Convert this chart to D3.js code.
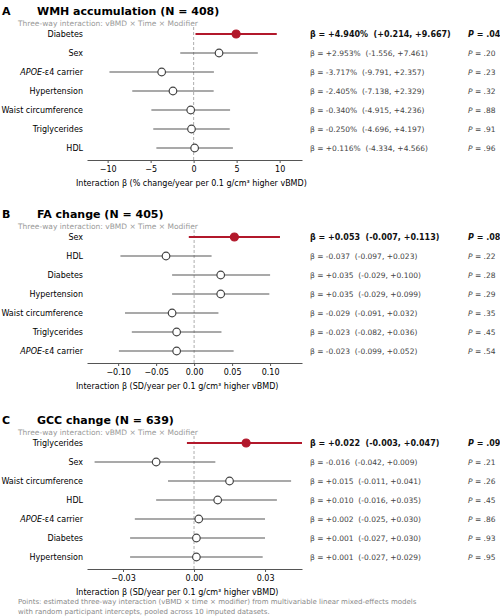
<!DOCTYPE html><html><head><meta charset="utf-8"><script src="https://cdn.jsdelivr.net/npm/d3@7"></script>
<style>body{margin:0;background:#fff}text{font-family:"DejaVu Sans",sans-serif}</style></head><body><svg id="c" width="500" height="616"></svg>
<script>
const aLabels=["Diabetes","Sex","APOE","Hypertension","Waist circumference","Triglycerides","HDL"];
const aEst=[4.940,2.953,-3.717,-2.405,-0.340,-0.250,0.116];
const aLo=[0.214,-1.556,-9.791,-7.138,-4.915,-4.696,-4.334];
const aHi=[9.667,7.461,2.357,2.329,4.236,4.197,4.566];
const aP=[".04",".20",".23",".32",".88",".91",".96"];
const bLabels=["Sex","HDL","Diabetes","Hypertension","Waist circumference","Triglycerides","APOE"];
const bEst=[0.053,-0.037,0.035,0.035,-0.029,-0.023,-0.023];
const bLo=[-0.007,-0.097,-0.029,-0.029,-0.091,-0.082,-0.099];
const bHi=[0.113,0.023,0.100,0.099,0.032,0.036,0.052];
const bP=[".08",".22",".28",".29",".35",".45",".54"];
const cLabels=["Triglycerides","Sex","Waist circumference","HDL","APOE","Diabetes","Hypertension"];
const cEst=[0.022,-0.016,0.015,0.010,0.002,0.001,0.001];
const cLo=[-0.003,-0.042,-0.011,-0.016,-0.025,-0.027,-0.027];
const cHi=[0.047,0.009,0.041,0.035,0.030,0.030,0.029];
const cP=[".09",".21",".26",".45",".86",".93",".95"];
const aTicks=[-10,-5,0,5,10], bTicks=[-0.10,-0.05,0,0.05,0.10], cTicks=[-0.03,0,0.03];
const svg=d3.select("#c");
const RED="#b2182b", GR="#555";
function sgn(v,d){return (v>=0?"+":"-")+Math.abs(v).toFixed(d);}
function panel(o){
  const g=svg.append("g");
  g.append("text").attr("x",2).attr("y",o.top).attr("font-size",11).attr("font-weight","bold").text(o.letter);
  g.append("text").attr("x",37).attr("y",o.top).attr("font-size",11).attr("font-weight","bold").text(o.title);
  g.append("text").attr("x",18).attr("y",o.top+11).attr("font-size",7.5).attr("fill","#999").text("Three-way interaction: vBMD × Time × Modifier");
  const x=d3.scaleLinear().domain(o.dom).range([87,302]);
  const y=d3.scalePoint().domain(d3.range(7)).range([o.top+19,o.top+133]);
  const yc=i=>y(i);
  const axY=o.top+145;
  g.append("line").attr("x1",x(0)).attr("x2",x(0)).attr("y1",o.top+12).attr("y2",axY).attr("stroke","#999").attr("stroke-dasharray","3,2").attr("stroke-width",0.8);
  const ax=g.append("g").attr("transform",`translate(0,${axY})`).call(d3.axisBottom(x).tickValues(o.ticks).tickFormat(o.fmt).tickSize(3).tickSizeOuter(0));
  ax.select(".domain").attr("stroke","#555");
  ax.selectAll(".tick line").attr("stroke","#555");
  ax.selectAll("text").attr("font-size",8).attr("font-family","DejaVu Sans");
  g.append("text").attr("x",76).attr("y",axY+26).attr("font-size",8).text(o.xlab);
  o.labels.forEach((l,i)=>{
    const sig=i===0, c=sig?RED:GR;
    const t=g.append("text").attr("x",83).attr("y",yc(i)+3).attr("text-anchor","end").attr("font-size",8);
    if(l==="APOE"){t.append("tspan").attr("font-style","italic").text("APOE");t.append("tspan").text("-ε4 carrier");} else t.text(l);
    g.append("line").attr("x1",x(Math.max(o.lo[i],o.dom[0]))).attr("x2",x(Math.min(o.hi[i],o.dom[1]))).attr("y1",yc(i)).attr("y2",yc(i)).attr("stroke",c).attr("stroke-width",sig?2:1.2);
    g.append("circle").attr("cx",x(o.est[i])).attr("cy",yc(i)).attr("r",sig?4:3.8).attr("fill",sig?RED:"#fff").attr("stroke",sig?RED:"#444").attr("stroke-width",1.2);
    g.append("text").attr("x",310).attr("y",yc(i)+3).attr("font-size",sig?8:7.5).attr("font-weight",sig?"bold":"normal").attr("fill",sig?"#111":"#444")
      .attr("xml:space","preserve").text(`β = ${sgn(o.est[i],3)}${o.pct?"%":""}  (${sgn(o.lo[i],3)}, ${sgn(o.hi[i],3)})`);
    const p=g.append("text").attr("x",468).attr("y",yc(i)+3).attr("font-size",sig?8:7.5).attr("font-weight",sig?"bold":"normal").attr("fill",sig?"#111":"#444");
    p.append("tspan").attr("font-style","italic").text("P");p.append("tspan").text(" = "+o.p[i]);
  });
}
panel({letter:"A",title:"WMH accumulation (N = 408)",top:15,dom:[-12.4,12.6],ticks:aTicks,fmt:d3.format("d"),labels:aLabels,est:aEst,lo:aLo,hi:aHi,p:aP,pct:true,xlab:"Interaction β  (% change/year per 0.1 g/cm³ higher vBMD)"});
panel({letter:"B",title:"FA change (N = 405)",top:218,dom:[-0.141,0.142],ticks:bTicks,fmt:d3.format(".2f"),labels:bLabels,est:bEst,lo:bLo,hi:bHi,p:bP,xlab:"Interaction β  (SD/year per 0.1 g/cm³ higher vBMD)"});
panel({letter:"C",title:"GCC change (N = 639)",top:424,dom:[-0.0452,0.0456],ticks:cTicks,fmt:d3.format(".2f"),labels:cLabels,est:cEst,lo:cLo,hi:cHi,p:cP,xlab:"Interaction β  (SD/year per 0.1 g/cm³ higher vBMD)"});
svg.append("text").attr("x",18).attr("y",604).attr("font-size",7).attr("fill","#888").text("Points: estimated three-way interaction (vBMD × time × modifier) from multivariable linear mixed-effects models");
svg.append("text").attr("x",18).attr("y",614).attr("font-size",7).attr("fill","#888").text("with random participant intercepts, pooled across 10 imputed datasets.");
</script></body></html>
